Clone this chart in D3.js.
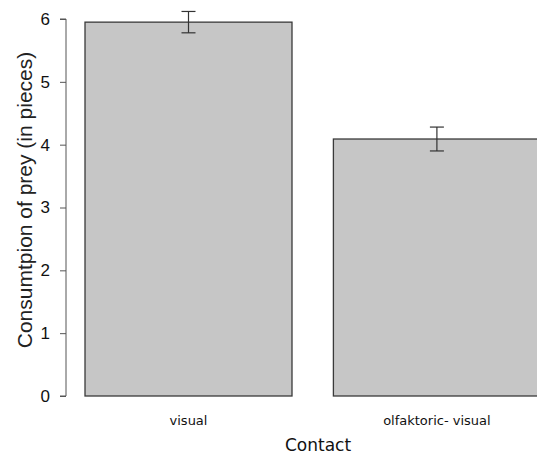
<!DOCTYPE html>
<html><head><meta charset="utf-8">
<script src="https://cdn.jsdelivr.net/npm/d3@7"></script>
<style>body{margin:0;background:#fff}svg{display:block}</style>
</head><body>
<script>
const categories = ["visual", "olfaktoric- visual"];
const means = [5.95, 4.09];
const errLow = [5.78, 3.90];
const errHigh = [6.12, 4.28];
const yTicks = [0, 1, 2, 3, 4, 5, 6];
const yLabel = "Consumtpion of prey (in pieces)";
const xLabel = "Contact";

const W = 537, H = 455;
const svg = d3.select("body").append("svg").attr("width", W).attr("height", H);

// R barplot style positions: width 1, space 0.2
const barLeft = categories.map((c, i) => 0.2 + i * 1.2);
const x = d3.scaleLinear().domain([0.2, 2.4]).range([85, 540.4]);
const y = d3.scaleLinear().domain([0, 6]).range([396, 19]);

// bars
svg.selectAll("rect.bar").data(means).join("rect")
  .attr("x", (d, i) => x(barLeft[i]))
  .attr("y", d => y(d))
  .attr("width", (d, i) => x(barLeft[i] + 1) - x(barLeft[i]))
  .attr("height", d => y(0) - y(d))
  .attr("fill", "#c6c6c6").attr("stroke", "#3a3a3a").attr("stroke-width", 1.3);

// error bars
const eb = svg.append("g").attr("stroke", "#333").attr("stroke-width", 1.2).attr("fill", "none");
means.forEach((m, i) => {
  const cx = x(barLeft[i] + 0.5);
  eb.append("line").attr("x1", cx).attr("x2", cx).attr("y1", y(errLow[i])).attr("y2", y(errHigh[i]));
  eb.append("line").attr("x1", cx - 7).attr("x2", cx + 7).attr("y1", y(errLow[i])).attr("y2", y(errLow[i]));
  eb.append("line").attr("x1", cx - 7).attr("x2", cx + 7).attr("y1", y(errHigh[i])).attr("y2", y(errHigh[i]));
});

// y axis
const yAxis = d3.axisLeft(y).tickValues(yTicks).tickSize(6).tickPadding(10).tickFormat(d3.format("d"));
const gy = svg.append("g").attr("transform", "translate(66,0)").call(yAxis);
gy.select(".domain").attr("stroke", "#555").attr("d", `M-6,${y(0)}H0V${y(6)}H-6`);
gy.selectAll(".tick line").attr("stroke", "#555");
gy.selectAll(".tick text").attr("font-family", "Liberation Sans, Arial, sans-serif").attr("font-size", 17).attr("fill", "#111");

// category labels
svg.selectAll("text.cat").data(categories).join("text")
  .attr("x", (d, i) => x(barLeft[i] + 0.5))
  .attr("y", 425)
  .attr("text-anchor", "middle")
  .attr("font-family", "DejaVu Sans, Verdana, sans-serif")
  .attr("font-size", 13)
  .attr("fill", "#111")
  .text(d => d);

svg.append("text").attr("x", 318).attr("y", 451).attr("text-anchor", "middle")
  .attr("font-family", "DejaVu Sans, Verdana, sans-serif").attr("font-size", 17).attr("fill", "#111")
  .text(xLabel);

svg.append("text").attr("transform", "translate(32,200) rotate(-90)").attr("text-anchor", "middle")
  .attr("font-family", "Liberation Sans, Arial, sans-serif").attr("font-size", 21).attr("fill", "#222")
  .text(yLabel);
</script>
</body></html>
